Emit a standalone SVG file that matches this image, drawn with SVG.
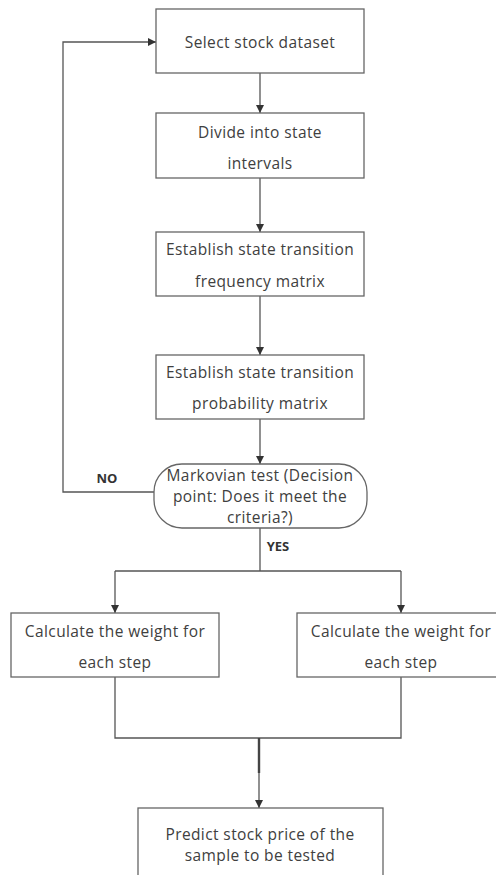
<svg xmlns="http://www.w3.org/2000/svg" width="496" height="875" viewBox="0 0 496 875">
<style>
.box{fill:#fff;stroke:#666;stroke-width:1.3}
.t{font-family:"Open Sans","Noto Sans",sans-serif;font-size:15.5px;letter-spacing:0.4px;fill:#404040;text-anchor:middle;dominant-baseline:central}
.lbl{font-family:"Open Sans","Noto Sans",sans-serif;font-size:13px;font-weight:bold;fill:#333;text-anchor:middle;dominant-baseline:central}
.ln{fill:none;stroke:#555;stroke-width:1.3}
</style>
<defs>
<marker id="ah" viewBox="0 0 10 10" refX="10" refY="5" markerWidth="8" markerHeight="8" markerUnits="userSpaceOnUse" orient="auto">
<path d="M0,0 L10,5 L0,10 z" fill="#333"/>
</marker>
</defs>
<rect width="496" height="875" fill="#fff"/>
<g id="connectors">
<path class="ln" d="M260,73 V113" marker-end="url(#ah)"/>
<path class="ln" d="M260,178 V232" marker-end="url(#ah)"/>
<path class="ln" d="M260,296 V355" marker-end="url(#ah)"/>
<path class="ln" d="M260,419 V464" marker-end="url(#ah)"/>
<path class="ln" d="M154,492 H63 V42 H156" marker-end="url(#ah)"/>
<path class="ln" d="M260,528 V571"/>
<path class="ln" d="M115,571 H401"/>
<path class="ln" d="M115,571 V613" marker-end="url(#ah)"/>
<path class="ln" d="M401,571 V613" marker-end="url(#ah)"/>
<path class="ln" d="M115,677 V738 H401 V677"/>
<path class="ln" d="M259,738 V808" marker-end="url(#ah)"/>
<path d="M259,738 V773" stroke="#444" stroke-width="2.4"/>
<text class="lbl" x="107" y="478">NO</text>
<text class="lbl" x="278" y="546">YES</text>
</g>
<g id="n1">
<rect class="box" x="156" y="9" width="208" height="64"/>
<text class="t" x="260" y="42">Select stock dataset</text>
</g>
<g id="n2">
<rect class="box" x="156" y="113" width="208" height="65"/>
<text class="t" x="260" y="132">Divide into state</text>
<text class="t" x="260" y="163">intervals</text>
</g>
<g id="n3">
<rect class="box" x="156" y="232" width="208" height="64"/>
<text class="t" x="260" y="249">Establish state transition</text>
<text class="t" x="260" y="281">frequency matrix</text>
</g>
<g id="n4">
<rect class="box" x="156" y="355" width="208" height="64"/>
<text class="t" x="260" y="372">Establish state transition</text>
<text class="t" x="260" y="403">probability matrix</text>
</g>
<g id="n5">
<rect class="box" x="154" y="464" width="213" height="64" rx="28" ry="28"/>
<text class="t" x="260" y="475">Markovian test (Decision</text>
<text class="t" x="260" y="496">point: Does it meet the</text>
<text class="t" x="260" y="517">criteria?)</text>
</g>
<g id="n6">
<rect class="box" x="11" y="613" width="208" height="64"/>
<text class="t" x="115" y="631">Calculate the weight for</text>
<text class="t" x="115" y="662">each step</text>
</g>
<g id="n7">
<rect class="box" x="297" y="613" width="208" height="64"/>
<text class="t" x="401" y="631">Calculate the weight for</text>
<text class="t" x="401" y="662">each step</text>
</g>
<g id="n8">
<rect class="box" x="138" y="808" width="245" height="80"/>
<text class="t" x="260" y="834">Predict stock price of the</text>
<text class="t" x="260" y="855">sample to be tested</text>
</g>
</svg>
